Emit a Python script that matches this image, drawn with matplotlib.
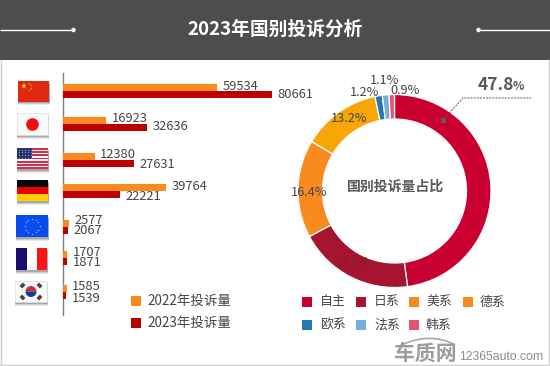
import matplotlib
matplotlib.use("Agg")
import matplotlib.pyplot as plt
from matplotlib.patches import Rectangle, Circle, Wedge, PathPatch
from matplotlib.path import Path
import numpy as np

plt.rcParams['font.family'] = ['Noto Sans CJK SC', 'DejaVu Sans']

# ---- data ----
title = "2023年国别投诉分析"
series_names = ["2022年投诉量", "2023年投诉量"]
complaints_2022 = [59534, 16923, 12380, 39764, 2577, 1707, 1585]
complaints_2023 = [80661, 32636, 27631, 22221, 2067, 1871, 1539]
origin_names = ["自主", "日系", "美系", "德系", "欧系", "法系", "韩系"]
share_labels = ["47.8%", "19.4%", "16.4%", "13.2%", "1.2%", "1.1%", "0.9%"]
donut_title = "国别投诉量占比"

# ---- styles and layout (pixels) ----
W, H = 550, 366
ORANGE, DARKRED = "#FB8A1E", "#BA0000"
wedge_colors = ["#C9002F", "#A5152F", "#F98A1D", "#F7A606", "#2478B4", "#73B0DE", "#E4546F"]
legend_colors = ["#C9002F", "#A5152F", "#F98A1D", "#F98A1D", "#2478B4", "#73B0DE", "#E4546F"]
TXT = "#454545"
row_y = [91, 124, 160, 191, 227, 258, 292]
bar_h = 7
label_y_2022 = [87, 119, 155, 187, 221, 252, 287]
label_y_2023 = [95, 127, 164, 196, 231, 263, 298]
share_pos = [None, (352, 263), (309, 193), (349, 119), (365, 92.5), (385, 80), (405, 90)]

fig = plt.figure(figsize=(W / 100, H / 100), dpi=100, facecolor="white")

# overlay in pixel coordinates
ov = fig.add_axes([0, 0, 1, 1], zorder=1)
ov.set_xlim(0, W); ov.set_ylim(H, 0); ov.axis("off")

# header
ov.add_patch(Rectangle((0, 0), W, 60, fc="#4D4D4D", ec="none"))
ov.text(275, 29.5, title, color="white", fontsize=13.5, fontweight="bold", ha="center", va="center")
ov.plot([0, 73], [30, 30], color="white", lw=1, solid_capstyle="butt")
ov.plot([479, 550], [30, 30], color="white", lw=1, solid_capstyle="butt")
ov.add_patch(Circle((73.5, 30), 2.3, fc="#F2F2F2", ec="none"))
ov.add_patch(Circle((478.5, 30), 2.3, fc="#F2F2F2", ec="none"))

# frame
ov.plot([0.5, 0.5], [60, 365], color="#CFCFCF", lw=1)
ov.plot([548.5, 548.5], [60, 365], color="#CFCFCF", lw=1)
ov.plot([0, 549], [365, 365], color="#CFCFCF", lw=1)

# axis line
ov.plot([62.5, 62.5], [73, 315], color="#7F7F7F", lw=1)

# bars: data scale on x, pixel rows on y
bx = fig.add_axes([62.5 / W, 0, (272 - 62.5) / W, 1], zorder=2)
bx.set_xlim(0, max(complaints_2023)); bx.set_ylim(H, 0); bx.axis("off")
bx.barh([y - bar_h / 2 for y in row_y], complaints_2022, height=bar_h, color=ORANGE)
bx.barh([y + bar_h / 2 for y in row_y], complaints_2023, height=bar_h, color=DARKRED)
for vals, ys in ((complaints_2022, label_y_2022), (complaints_2023, label_y_2023)):
    for v, y in zip(vals, ys):
        bx.annotate(str(v), xy=(v, y), xytext=(5.5 * 0.72, 0), textcoords="offset points",
                    fontsize=9.3, color=TXT, va="center", ha="left", annotation_clip=False)

# flags
def shadow(x0, y0, x1, y1):
    for d, a in ((3.5, .12), (2.5, .2), (1.5, .3)):
        ov.add_patch(Rectangle((x0 - .5, y0 + d), x1 - x0 + 1, y1 - y0, fc="#555555", alpha=a, ec="none"))

def rect(x0, y0, x1, y1, c):
    ov.add_patch(Rectangle((x0, y0), x1 - x0, y1 - y0, fc=c, ec="none"))

# China
shadow(18, 81, 49, 101.5)
rect(18, 81, 49, 101.5, "#DE2910")
ov.plot([23.5], [85.5], marker="*", ms=5, color="#FFD21E", mew=0)
for dx_, dy_ in ((29, 82.8), (31, 85), (31, 88), (29, 90)):
    ov.plot([dx_], [dy_], marker="*", ms=1.8, color="#F0B030", mew=0)
# Japan
shadow(17, 113, 48, 135)
rect(17, 113, 48, 135, "#FBFBFB")
ov.add_patch(Rectangle((17, 113), 31, 22, fc="none", ec="#E2E2E2", lw=.6))
ov.add_patch(Circle((32.5, 124.5), 6.3, fc="#F80A0A", ec="none"))
# USA
shadow(17, 148, 48, 169)
rect(17, 148, 48, 169, "#FAF2F2")
for i in range(7):
    rect(17, 148 + i * 3.23, 48, 148 + i * 3.23 + 1.6, "#C8344C")
rect(17, 148, 32, 159.3, "#2A3470")
for i in range(5):
    for j in range(4):
        ov.plot([18.5 + i * 3], [149.5 + j * 2.7], marker=".", ms=1.6, color="#9FA6D0", mew=0)
# Germany
shadow(17, 180, 48, 201)
rect(17, 180, 48, 187, "#050505")
rect(17, 187, 48, 194, "#E60000")
rect(17, 194, 48, 201, "#FFCC00")
# EU
shadow(16, 215, 48, 237)
rect(16, 215, 48, 237, "#0A4BF0")
for a in np.arange(0, 360, 30):
    ov.plot([32 + 7.5 * np.cos(np.radians(a))], [226 + 7.5 * np.sin(np.radians(a))],
            marker="*", ms=1.6, color="#B9C4D8", mew=0)
# France
shadow(16, 248, 47, 270)
rect(16, 248, 26.5, 270, "#1E0A6E")
rect(26.5, 248, 37, 270, "#FFFFFF")
rect(37, 248, 47, 270, "#FF1414")
# Korea
shadow(15, 281, 47, 302)
rect(15, 281, 47, 302, "#FBFBFB")
ov.add_patch(Rectangle((15, 281), 32, 21, fc="none", ec="#E2E2E2", lw=.6))
ov.add_patch(Wedge((31, 291.5), 5.5, 180, 360, fc="#CD2E3A", ec="none"))
ov.add_patch(Wedge((31, 291.5), 5.5, 0, 180, fc="#0F3F92", ec="none"))
for cx_, cy_, ang in ((22.5, 285.5, 45), (39.5, 285.5, -45), (22.5, 297.5, -45), (39.5, 297.5, 45)):
    ov.plot([cx_ - 2.4 * np.cos(np.radians(ang)), cx_ + 2.4 * np.cos(np.radians(ang))],
            [cy_ + 2.4 * np.sin(np.radians(ang)), cy_ - 2.4 * np.sin(np.radians(ang))],
            color="#444444", lw=2.6, solid_capstyle="butt")

# bar legend
for y, c, s in zip((301, 323), (ORANGE, DARKRED), series_names):
    rect(131, y - 5, 141, y + 5, c)
    ov.text(147.5, y, s, fontsize=9.7, color=TXT, va="center", ha="left")

# donut
cx, cy, R = 394.5, 191, 96.5
dx = fig.add_axes([(cx - R) / W, 1 - (cy + R) / H, 2 * R / W, 2 * R / H], zorder=2)
dx.pie(complaints_2023, colors=wedge_colors, startangle=90, counterclock=False, radius=1,
       wedgeprops=dict(width=24.5 / R, edgecolor="white", linewidth=0.9))
dx.set_xlim(-1, 1); dx.set_ylim(-1, 1); dx.set_aspect("auto"); dx.axis("off")

top = fig.add_axes([0, 0, 1, 1], zorder=3)
top.set_xlim(0, W); top.set_ylim(H, 0); top.axis("off")
top.text(395, 187, donut_title, fontsize=10, fontweight="bold", color="#595959", ha="center", va="center")
for s, p in zip(share_labels, share_pos):
    if p is None:
        continue
    col = "#8A1830" if s == "19.4%" else TXT
    top.text(p[0], p[1], s, fontsize=9.2, color=col, ha="center", va="center")
# highlighted share
top.plot([443, 463, 531], [120, 98, 98], color="#555555", lw=0.7, ls=(0, (2, 1.2)))
top.add_patch(Rectangle((440.5, 117.5), 5, 5, fc="#6E5560", ec="none"))
top.text(477.5, 85, share_labels[0][:-1], fontsize=12.5, fontweight="bold", color="#595959", ha="left", va="center")
top.text(513, 86.5, "%", fontsize=8.5, fontweight="bold", color="#595959", ha="left", va="center")

# origin legend
sw_x = [302, 356, 409, 463]
tx_x = [320, 374, 426, 480]
for i, (n, c) in enumerate(zip(origin_names, legend_colors)):
    col = i % 4
    y = 302 if i < 4 else 325
    top.add_patch(Rectangle((sw_x[col], y - 5), 10, 10, fc=c, ec="none"))
    top.text(tx_x[col], y, n, fontsize=9.3, color=TXT, va="center", ha="left")

# watermark
top.text(425.5, 353.5, "车质网", fontsize=15, fontweight="bold", color="#9C9C9C", ha="center", va="center")
top.add_patch(PathPatch(Path([(400, 346), (418, 336), (440, 336), (455, 345)],
                             [Path.MOVETO, Path.CURVE4, Path.CURVE4, Path.CURVE4]),
                        fc="none", ec="#A8A8A8", lw=1.2))
top.text(459, 357, "12365auto.com", fontsize=8.8, family="Liberation Sans", color="#8C8C8C", ha="left", va="center")

fig.savefig("out.png", dpi=100, facecolor="white")
